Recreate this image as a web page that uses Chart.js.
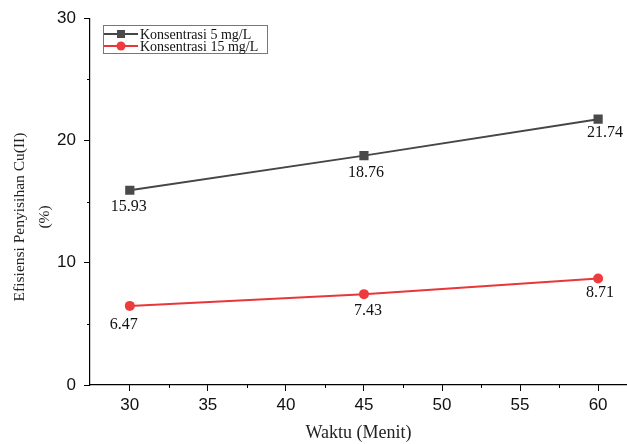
<!DOCTYPE html>
<html>
<head>
<meta charset="utf-8">
<script src="https://cdn.jsdelivr.net/npm/chart.js@4"></script>
<style>
  body { margin: 0; background: #fff; }
</style>
</head>
<body>
<canvas id="chart" width="627" height="444"></canvas>
<script>
// data
var waktu = [30, 45, 60];
var konsentrasi5 = [15.93, 18.76, 21.74];
var konsentrasi15 = [6.47, 7.43, 8.71];
var seriesNames = ["Konsentrasi 5 mg/L", "Konsentrasi 15 mg/L"];
var xTicks = [30, 32.5, 35, 37.5, 40, 42.5, 45, 47.5, 50, 52.5, 55, 57.5, 60];
var yTitle = ["Efisiensi Penyisihan Cu(II)", "(%)"];

// label nudges (px) so the numbers sit where the original put them
var labelShift = [
    [[-1, 17], [2, 17], [7, 14]],
    [[-6, 19], [4, 17], [2, 14]]
];

var serif = "'Liberation Serif', 'Times New Roman', serif";
var sans = "'Liberation Sans', Arial, sans-serif";

function toPoints(xs, ys) {
    return xs.map(function (x, i) { return { x: x, y: ys[i] }; });
}

// value labels under each point
var valueLabels = {
    id: 'valueLabels',
    afterDatasetsDraw: function (chart) {
        var ctx = chart.ctx;
        ctx.save();
        ctx.font = "16px " + serif;
        ctx.fillStyle = "#111";
        ctx.textAlign = "center";
        ctx.textBaseline = "middle";
        chart.data.datasets.forEach(function (ds, di) {
            chart.getDatasetMeta(di).data.forEach(function (pt, i) {
                var s = labelShift[di][i];
                ctx.fillText(ds.data[i].y.toFixed(2), pt.x + s[0], pt.y + s[1]);
            });
        });
        ctx.restore();
    }
};

// short minor ticks + the two-line y title
var axisExtras = {
    id: 'axisExtras',
    afterDraw: function (chart) {
        var ctx = chart.ctx;
        var xs = chart.scales.x, ys = chart.scales.y;
        ctx.save();
        ctx.strokeStyle = "#000";
        ctx.lineWidth = 1;
        xs.ticks.forEach(function (t) {
            if (t.value % 5 !== 0) {
                var px = Math.round(xs.getPixelForValue(t.value)) + 0.5;
                ctx.beginPath();
                ctx.moveTo(px, xs.top);
                ctx.lineTo(px, xs.top + 3);
                ctx.stroke();
            }
        });
        ys.ticks.forEach(function (t) {
            if (t.value % 10 !== 0) {
                var py = Math.round(ys.getPixelForValue(t.value)) + 0.5;
                ctx.beginPath();
                ctx.moveTo(ys.right, py);
                ctx.lineTo(ys.right - 3, py);
                ctx.stroke();
            }
        });
        ctx.translate(20, 217);
        ctx.rotate(-Math.PI / 2);
        ctx.font = "15.5px " + serif;
        ctx.fillStyle = "#222";
        ctx.textAlign = "center";
        ctx.textBaseline = "middle";
        ctx.fillText(yTitle[0], 0, 0);
        ctx.fillText(yTitle[1], 0, 25);
        ctx.restore();
    }
};

// boxed legend inside the plot
var boxLegend = {
    id: 'boxLegend',
    afterDraw: function (chart) {
        var ctx = chart.ctx;
        var left = chart.chartArea.left + 13, top = 25;
        ctx.save();
        ctx.strokeStyle = "#777";
        ctx.lineWidth = 1;
        ctx.strokeRect(left + 0.5, top + 0.5, 164, 28);
        ctx.font = "14px " + serif;
        ctx.textBaseline = "middle";
        chart.data.datasets.forEach(function (ds, i) {
            var y = top + 9 + i * 12;
            ctx.strokeStyle = ds.borderColor;
            ctx.lineWidth = 2;
            ctx.beginPath();
            ctx.moveTo(left + 1, y);
            ctx.lineTo(left + 35, y);
            ctx.stroke();
            ctx.fillStyle = ds.pointBackgroundColor;
            if (ds.pointStyle === 'rect') {
                ctx.fillRect(left + 14, y - 4, 8, 8);
            } else {
                ctx.beginPath();
                ctx.arc(left + 18, y, 4.5, 0, Math.PI * 2);
                ctx.fill();
            }
            ctx.fillStyle = "#111";
            ctx.fillText(ds.label, left + 37, y + 1);
        });
        ctx.restore();
    }
};

var chart = new Chart(document.getElementById('chart'), {
    type: 'line',
    data: {
        datasets: [
            {
                label: seriesNames[0],
                data: toPoints(waktu, konsentrasi5),
                borderColor: "#464646",
                backgroundColor: "#464646",
                pointBackgroundColor: "#4a4a4a",
                pointBorderColor: "#4a4a4a",
                pointBorderWidth: 0,
                pointStyle: 'rect',
                pointRadius: 6.5,
                borderWidth: 2,
                tension: 0
            },
            {
                label: seriesNames[1],
                data: toPoints(waktu, konsentrasi15),
                borderColor: "#e8363a",
                backgroundColor: "#e8363a",
                pointBackgroundColor: "#ee3b3e",
                pointBorderColor: "#ee3b3e",
                pointBorderWidth: 0,
                pointStyle: 'circle',
                pointRadius: 5,
                borderWidth: 2,
                tension: 0
            }
        ]
    },
    options: {
        responsive: false,
        devicePixelRatio: 1,
        animation: false,
        layout: { autoPadding: false, padding: { top: 17, right: 0, bottom: 0, left: 0 } },
        plugins: {
            legend: { display: false },
            tooltip: { enabled: false }
        },
        scales: {
            x: {
                type: 'linear',
                min: 27.45,
                max: 61.85,
                afterBuildTicks: function (scale) {
                    scale.ticks = xTicks.map(function (v) { return { value: v }; });
                },
                afterFit: function (scale) { scale.height = 59; },
                border: { color: "#000", width: 1.2 },
                grid: {
                    drawOnChartArea: false,
                    tickLength: 6,
                    tickColor: function (c) { return c.tick && c.tick.value % 5 === 0 ? "#000" : "transparent"; }
                },
                ticks: {
                    color: "#111",
                    font: { family: sans, size: 17 },
                    padding: 4,
                    maxRotation: 0,
                    autoSkip: false,
                    callback: function (v) { return v % 5 === 0 ? v : ''; }
                },
                title: {
                    display: true,
                    text: "Waktu (Menit)",
                    color: "#222",
                    font: { family: serif, size: 18 },
                    padding: { top: 0, bottom: 0 }
                }
            },
            y: {
                min: 0,
                max: 30,
                afterFit: function (scale) { scale.width = 90; },
                border: { color: "#000", width: 1.2 },
                grid: {
                    drawOnChartArea: false,
                    tickLength: 6,
                    tickColor: function (c) { return c.tick && c.tick.value % 10 === 0 ? "#000" : "transparent"; }
                },
                ticks: {
                    stepSize: 5,
                    color: "#111",
                    font: { family: sans, size: 17 },
                    padding: 8,
                    callback: function (v) { return v % 10 === 0 ? v : ''; }
                }
            }
        }
    },
    plugins: [valueLabels, axisExtras, boxLegend]
});
</script>
</body>
</html>
